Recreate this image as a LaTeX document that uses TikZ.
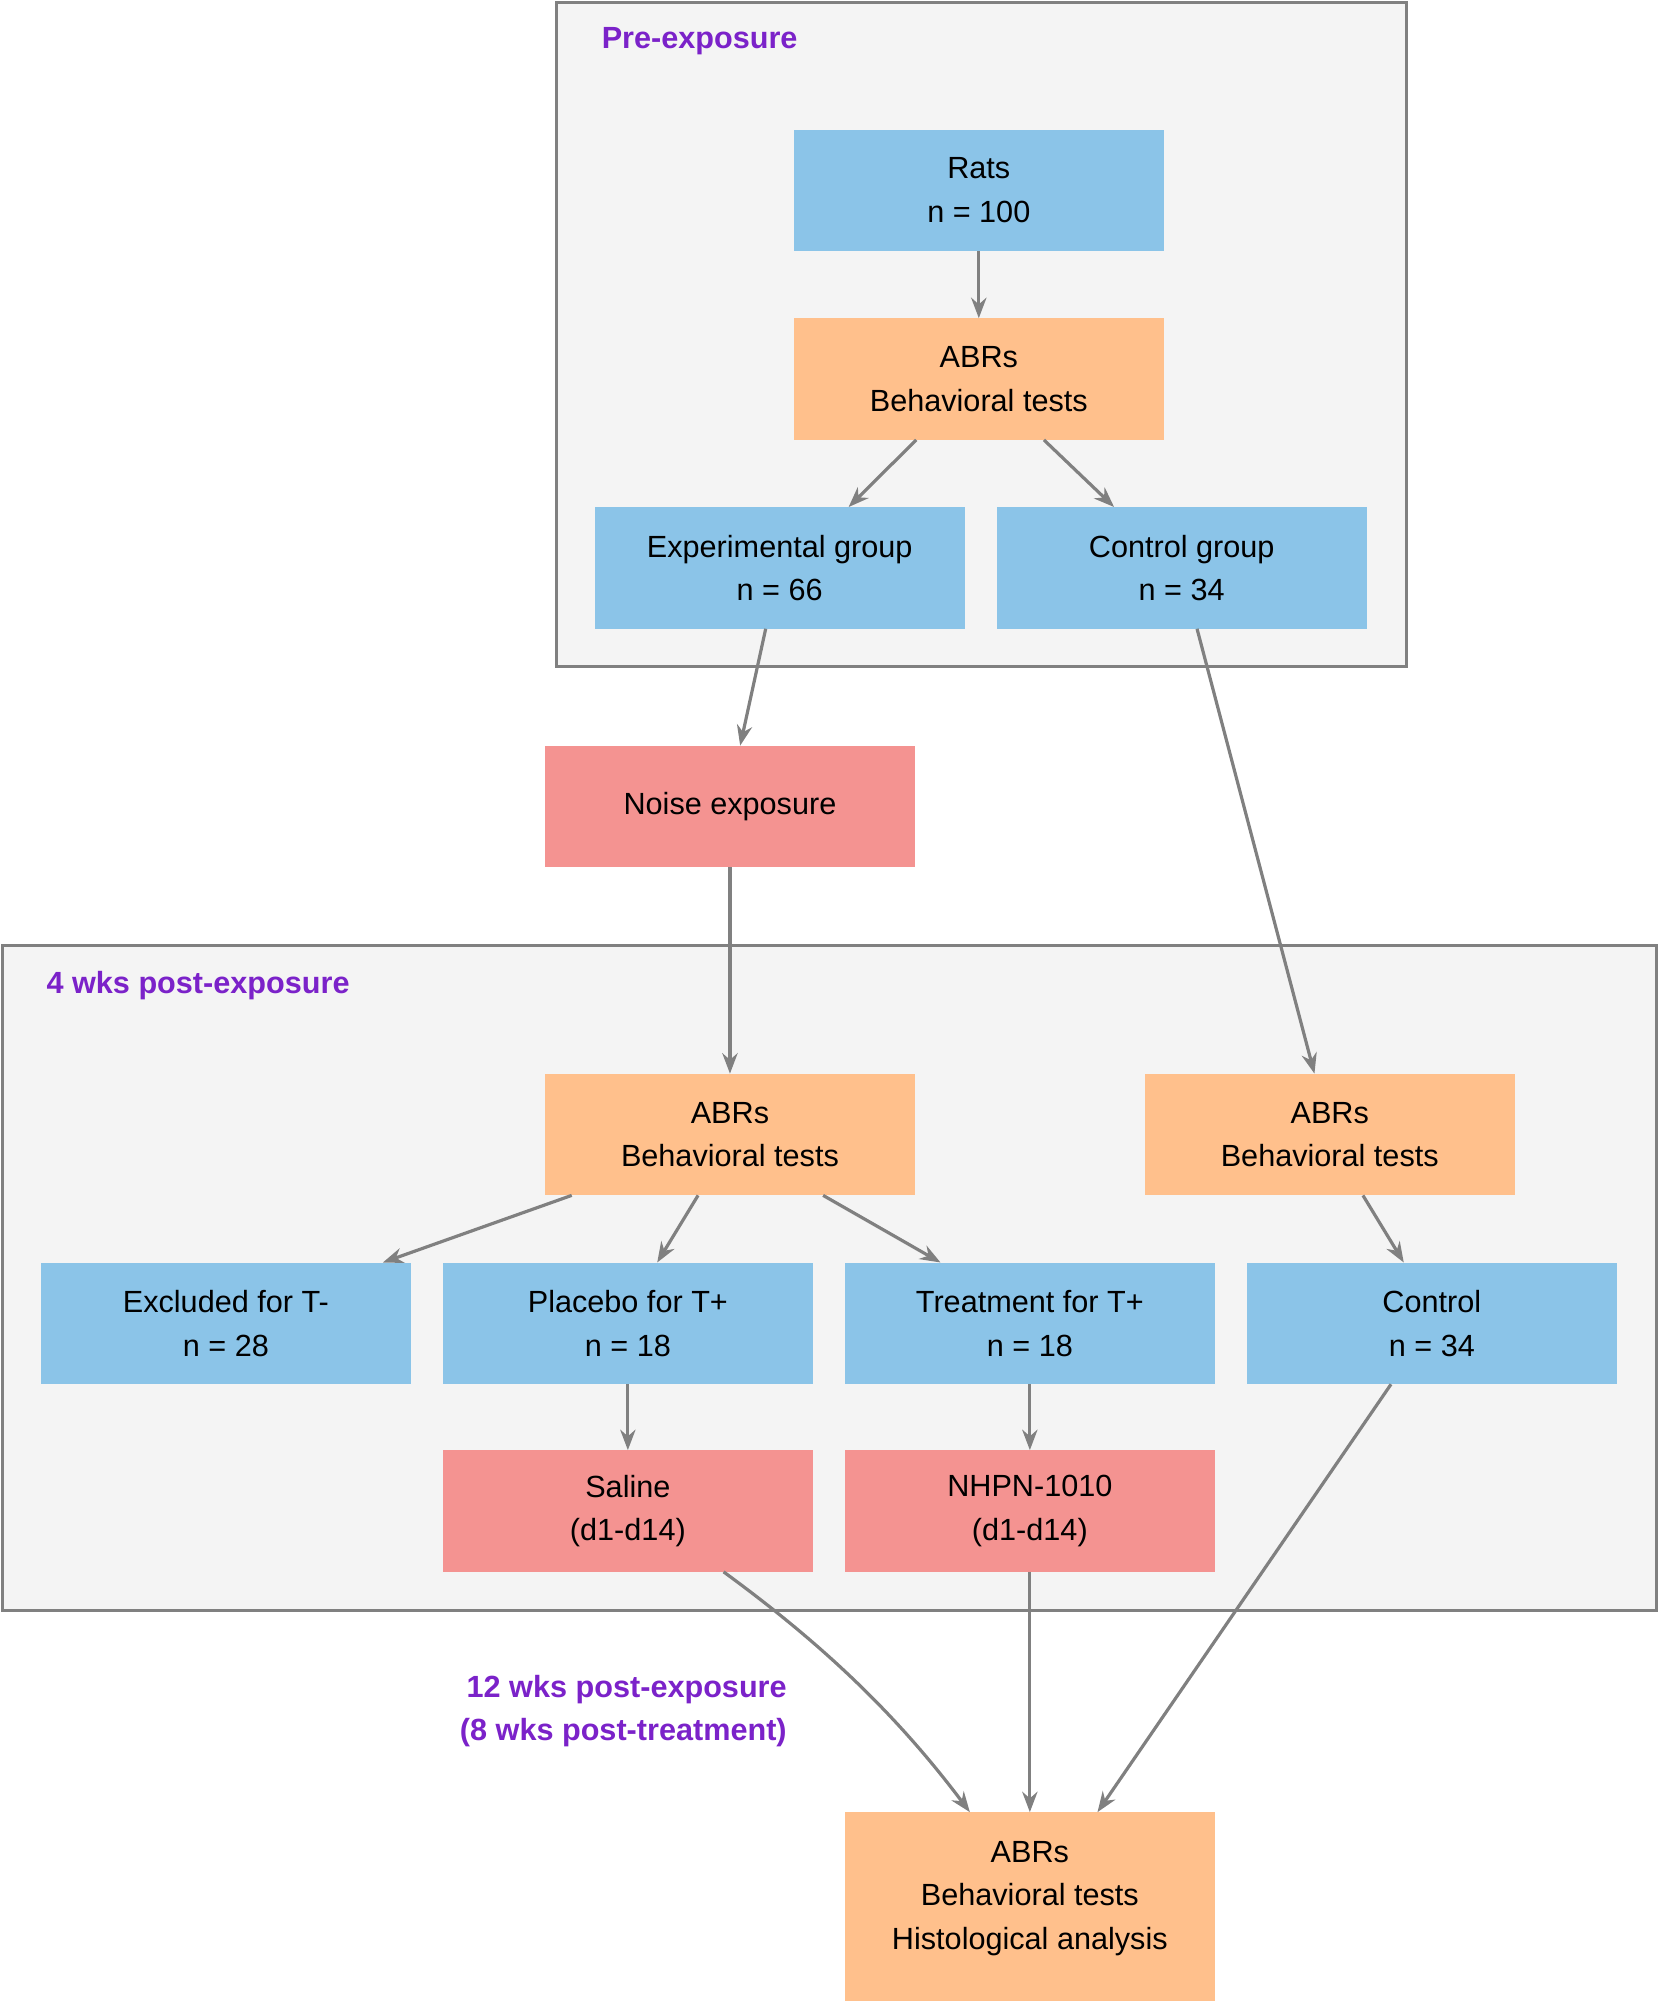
\documentclass[tikz,border=0pt]{standalone}
\usepackage{fontspec}
\setmainfont{Liberation Sans}
\usetikzlibrary{arrows.meta}
\definecolor{boxblue}{HTML}{8BC4E8}
\definecolor{boxorange}{HTML}{FFC08C}
\definecolor{boxred}{HTML}{F49391}
\definecolor{clusterfill}{HTML}{F4F4F4}
\definecolor{edgegray}{HTML}{808080}
\definecolor{labelpurple}{HTML}{7B22C9}
\begin{document}
\begin{tikzpicture}[x=1pt,y=-1pt,
  box/.style={rectangle,minimum width=290pt,minimum height=95pt,align=center,inner sep=0pt,font=\fontsize{24}{34}\selectfont},
  grp/.style={box,fill=boxblue},
  test/.style={box,fill=boxorange},
  act/.style={box,fill=boxred},
  cluster/.style={draw=edgegray,line width=2.5pt,fill=clusterfill},
  stage/.style={text=labelpurple,font=\fontsize{24}{34}\selectfont\bfseries},
  arr/.style={draw=edgegray,line width=2.5pt,-{Stealth[length=16pt,width=12pt]}}
  ]
    \useasboundingbox (0,0) rectangle (1300,1568);
    \clip (0,0) rectangle (1300,1568);

    % clusters
    \draw[cluster] (436,2) rectangle (1102,522);
    \node[stage,anchor=west] (pre) at (468,32) {Pre-exposure};
    \draw[cluster] (2,741) rectangle (1298,1262);
    \node[stage,anchor=west] (post) at (33,772) {4 wks post-exposure};
    \node[stage,align=right,anchor=east] (late) at (620,1341) {12 wks post-exposure\\(8 wks post-treatment)};

    % nodes
    \node[grp] (rats) at (767,149) {Rats\\n = 100};
    \node[test] (abrpre) at (767,297) {ABRs\\Behavioral tests};
    \node[grp] (expgrp) at (611,445) {Experimental group\\n = 66};
    \node[grp] (ctlgrp) at (926,445) {Control group\\n = 34};
    \node[act] (noise) at (572,632) {Noise exposure};
    \node[test] (abrexp) at (572,889) {ABRs\\Behavioral tests};
    \node[test] (abrctl) at (1042,889) {ABRs\\Behavioral tests};
    \node[grp] (excl) at (177,1037) {Excluded for T-\\n = 28};
    \node[grp] (placebo) at (492,1037) {Placebo for T+\\n = 18};
    \node[grp] (treat) at (807,1037) {Treatment for T+\\n = 18};
    \node[grp] (ctl) at (1122,1037) {Control\\n = 34};
    \node[act] (saline) at (492,1184) {Saline\\(d1-d14)};
    \node[act] (nhpn) at (807,1184) {NHPN-1010\\(d1-d14)};
    \node[test,minimum height=180pt,anchor=north,text depth=0pt] (final) at (807,1420) {};
    \node[box,anchor=north] (finaltxt) at (807,1440) {ABRs\\Behavioral tests\\Histological analysis};

    % connectors
    \draw[arr] (rats) -- (abrpre);
    \draw[arr] ([xshift=-49pt]abrpre.south) -- ([xshift=54pt]expgrp.north);
    \draw[arr] ([xshift=51pt]abrpre.south) -- ([xshift=-53pt]ctlgrp.north);
    \draw[arr] ([xshift=-11pt]expgrp.south) -- ([xshift=8pt]noise.north);
    \draw[arr] ([xshift=12pt]ctlgrp.south) -- ([xshift=-12pt]abrctl.north);
    \draw[arr] (noise) -- (abrexp);
    \draw[arr] ([xshift=-124pt]abrexp.south) -- ([xshift=123pt]excl.north);
    \draw[arr] ([xshift=-25pt]abrexp.south) -- ([xshift=23pt]placebo.north);
    \draw[arr] ([xshift=73pt]abrexp.south) -- ([xshift=-70pt]treat.north);
    \draw[arr] ([xshift=26pt]abrctl.south) -- ([xshift=-22pt]ctl.north);
    \draw[arr] (placebo) -- (saline);
    \draw[arr] (treat) -- (nhpn);
    \draw[arr] ([xshift=75pt]saline.south) .. controls (640,1285) and (700,1340) .. ([xshift=-47pt]final.north);
    \draw[arr] (nhpn) -- (final.north);
    \draw[arr] ([xshift=-32pt]ctl.south) -- ([xshift=53pt]final.north);
\end{tikzpicture}
\end{document}
